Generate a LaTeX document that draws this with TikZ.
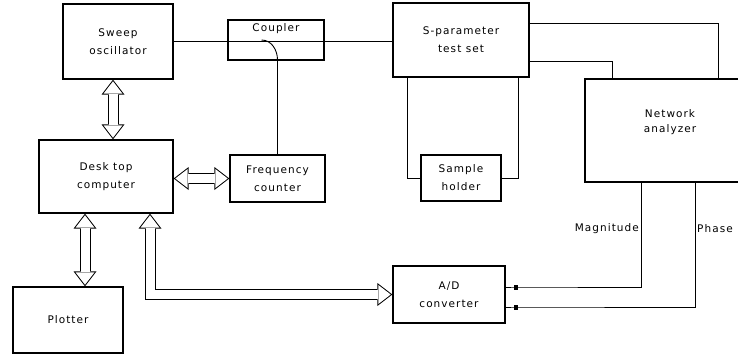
\documentclass[tikz,border=0pt]{standalone}
\usepackage{fontspec}
\setmainfont{DejaVu Sans}[LetterSpace=10]
\usetikzlibrary{arrows.meta}
\begin{document}
\begin{tikzpicture}[
    x=1pt, y=-1pt,
    font=\fontsize{10.5}{18}\selectfont,
    box/.style={
        draw,
        line width=1.3pt,
        align=center,
        inner sep=0pt
    },
    wire/.style={line width=0.9pt},
    bus/.style={
        line width=11pt,
        {Triangle[length=15pt, width=23pt, line width=0pt]}-{Triangle[length=15pt, width=23pt, line width=0pt]},
        postaction={
            draw, white, line width=9pt,
            {Triangle[length=12.4pt, width=19pt, line width=0pt]}-{Triangle[length=12.4pt, width=19pt, line width=0pt]},
            shorten <=1.64pt, shorten >=1.64pt
        }
    },
    jack/.style={fill, minimum width=4pt, minimum height=5pt, inner sep=0pt}
]
    \useasboundingbox (0,0) rectangle (738,356);

    \node[box, minimum width=110, minimum height=75] (sweep) at (118,41.5) {Sweep\\oscillator};
    \node[box, minimum width=96, minimum height=40] (coupler) at (276,40) {};
    \node[anchor=north, inner sep=4pt] (couplerlbl) at (coupler.north) {Coupler};
    \node[box, minimum width=136, minimum height=74] (sparam) at (461,40) {S-parameter\\test set};
    \node[box, minimum width=134, minimum height=73] (desk) at (106,176.5) {Desk top\\computer};
    \node[box, minimum width=95, minimum height=47] (freq) at (277.5,178.5) {Frequency\\counter};
    \node[box, minimum width=80, minimum height=46] (sample) at (461,178) {Sample\\holder};
    \node[box, minimum width=165, minimum height=103] (na) at (667.5,130.5) {};
    \node[align=center] (nalbl) at (670,122) {Network\\[-3pt]analyzer};
    \node[box, minimum width=110, minimum height=66] (plotter) at (68,320) {Plotter};
    \node[box, minimum width=112, minimum height=57] (ad) at (449,294.5) {A/D\\converter};

    % signal path through the coupler
    \draw[wire] (sweep.east) -- (sweep.east -| sparam.west);
    \draw[wire] ([xshift=-16pt]freq.north |- coupler.center) to[out=0, in=90]
        ([yshift=-20pt]freq.north |- coupler.center) -- (freq.north);

    % test set to analyzer and sample
    \draw[wire] ([yshift=17pt]sparam.east) -| ([xshift=50.5pt]na.north);
    \draw[wire] ([yshift=-21pt]sparam.east) -| ([xshift=-55.5pt]na.north);
    \draw[wire] ([xshift=-54pt]sparam.south) |- (sample.west);
    \draw[wire] ([xshift=57pt]sparam.south) |- (sample.east);

    % analyzer outputs
    \node[jack] (jackmag) at ([xshift=10pt, yshift=7.5pt]ad.east) {};
    \node[jack] (jackph) at ([xshift=10pt, yshift=-12.5pt]ad.east) {};
    \draw[wire] ([xshift=-26.5pt]na.south) |- (jackmag.center) -- ([yshift=7.5pt]ad.east);
    \draw[wire] ([xshift=27.5pt]na.south) |- (jackph.center) -- ([yshift=-12.5pt]ad.east);
    \node[anchor=east, inner sep=2pt] (maglbl) at ([xshift=-26.5pt, yshift=-46pt]na.south) {Magnitude};
    \node[anchor=west, inner sep=2pt] (phlbl) at ([xshift=27.5pt, yshift=-46pt]na.south) {Phase};

    % data buses
    \draw[bus] ([xshift=-5pt]sweep.south) -- ([xshift=-5pt]sweep.south |- desk.north);
    \draw[bus] (freq.west -| desk.east) -- (freq.west);
    \draw[bus] ([xshift=-21pt]desk.south) -- ([xshift=-21pt]desk.south |- plotter.north);
    \draw[bus] ([xshift=44pt]desk.south) |- (ad.west);
\end{tikzpicture}
\end{document}
